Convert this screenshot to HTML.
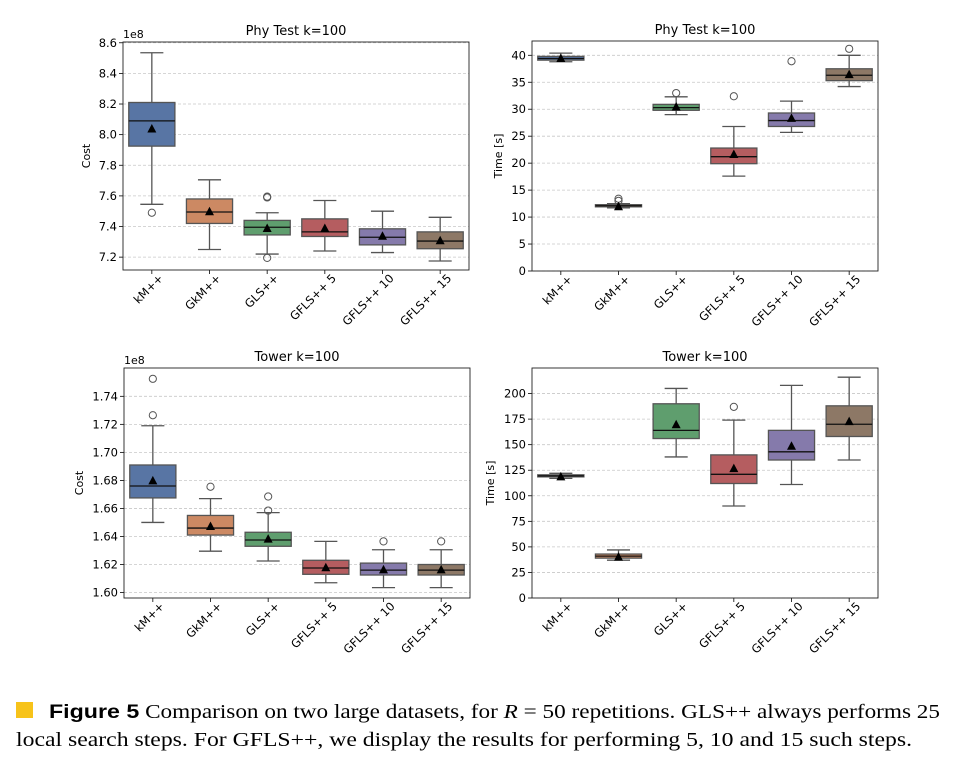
<!DOCTYPE html>
<html><head><meta charset="utf-8"><style>
body{margin:0;background:#fff;width:955px;height:773px;overflow:hidden}
svg{display:block}
</style></head><body>
<svg id="fig" width="955" height="773" xmlns="http://www.w3.org/2000/svg">
<rect x="16" y="702" width="17" height="16" fill="#f7c31a"/>
<text x="49" y="718" font-family="Liberation Serif, serif" font-size="19.5" textLength="891" lengthAdjust="spacingAndGlyphs"><tspan font-family="Liberation Sans, sans-serif" font-weight="bold">Figure 5</tspan> Comparison on two large datasets, for <tspan font-style="italic">R</tspan> = 50 repetitions. GLS++ always performs 25</text>
<text x="16" y="746" font-family="Liberation Serif, serif" font-size="19.5" textLength="896" lengthAdjust="spacingAndGlyphs">local search steps. For GFLS++, we display the results for performing 5, 10 and 15 such steps.</text>
</svg>
<script>
const categories=["kM++","GkM++","GLS++","GFLS++ 5","GFLS++ 10","GFLS++ 15"];
const colors=["#5875a4","#cc8963","#5f9e6e","#b55d60","#857aab","#8d7866"];
// [whiskerLo, q1, median, q3, whiskerHi]
const phyCost=[[7.545,7.925,8.09,8.21,8.535],[7.25,7.42,7.495,7.58,7.705],[7.22,7.345,7.395,7.44,7.49],[7.24,7.335,7.365,7.45,7.57],[7.23,7.28,7.33,7.385,7.50],[7.175,7.255,7.305,7.365,7.46]];
const phyCostMean=[8.04,7.50,7.39,7.39,7.34,7.31];
const phyCostOut=[[7.49],[],[7.59,7.595,7.195],[],[],[]];
const phyTime=[[38.8,39.1,39.4,39.8,40.4],[11.7,11.9,12.1,12.3,12.5],[29.0,29.8,30.3,30.9,32.3],[17.6,19.9,21.2,22.8,26.8],[25.7,26.8,27.9,29.3,31.5],[34.2,35.3,36.3,37.5,40.0]];
const phyTimeMean=[39.5,12.0,30.5,21.7,28.4,36.5];
const phyTimeOut=[[],[13.0,13.4],[33.0],[32.4],[38.9],[41.2]];
const towCost=[[1.650,1.6675,1.676,1.691,1.719],[1.6295,1.641,1.646,1.655,1.667],[1.6225,1.633,1.6375,1.643,1.657],[1.607,1.613,1.6175,1.623,1.6365],[1.6035,1.6125,1.616,1.621,1.6305],[1.6035,1.6125,1.616,1.620,1.6305]];
const towCostMean=[1.680,1.6475,1.6385,1.618,1.6165,1.6165];
const towCostOut=[[1.7265,1.7525],[1.6755],[1.6585,1.6685],[],[1.6365],[1.6365]];
const towTime=[[117,118.5,119.5,120.5,122],[37,39,41,43,47],[138,156,164,190,205],[90,112,121,140,174],[111,135,143,164,208],[135,158,170,188,216]];
const towTimeMean=[119,40.5,170,127,149,173];
const towTimeOut=[[],[],[],[187],[],[]];
const phyCostTicks=["7.2","7.4","7.6","7.8","8.0","8.2","8.4","8.6"];
const phyTimeTicks=["0","5","10","15","20","25","30","35","40"];
const towCostTicks=["1.60","1.62","1.64","1.66","1.68","1.70","1.72","1.74"];
const towTimeTicks=["0","25","50","75","100","125","150","175","200"];

const NS="http://www.w3.org/2000/svg";
const svg=document.getElementById('fig');
function mk(tag,attrs,parent){const e=document.createElementNS(NS,tag);for(const k in attrs)e.setAttribute(k,attrs[k]);(parent||svg).appendChild(e);return e;}

function panel(p){
  const g=mk('g',{});
  
  
  const y=v=>p.B-(v-p.ymin)/(p.ymax-p.ymin)*(p.B-p.T);
  const n=categories.length,step=(p.R-p.L)/n;
  const x=i=>p.L+step*(i+0.5);
  p.ticks.forEach(t=>{
    const v=parseFloat(t),yy=y(v);
    const gl=mk('line',{x1:p.L,x2:p.R,y1:yy,y2:yy,stroke:'#c8c8c8','stroke-width':0.8,'stroke-dasharray':'3,2'},g);
    
    
    mk('line',{x1:p.L-4,x2:p.L,y1:yy,y2:yy,stroke:'#000','stroke-width':0.8},g);
    const tx=mk('text',{x:p.L-6,y:yy+4,'text-anchor':'end','font-family':'DejaVu Sans, sans-serif','font-size':11.5},g);
    tx.textContent=t;
    
    
  });
  categories.forEach((c,i)=>{
    const s=p.stats[i],cx=x(i),w=step*0.8,cap=step*0.2;
    const bg=mk('g',{},g);
    
    
    const st={stroke:'#555','stroke-width':1.3};
    mk('line',Object.assign({x1:cx,x2:cx,y1:y(s[0]),y2:y(s[1])},st),bg);
    mk('line',Object.assign({x1:cx,x2:cx,y1:y(s[3]),y2:y(s[4])},st),bg);
    mk('line',Object.assign({x1:cx-cap,x2:cx+cap,y1:y(s[0]),y2:y(s[0])},st),bg);
    mk('line',Object.assign({x1:cx-cap,x2:cx+cap,y1:y(s[4]),y2:y(s[4])},st),bg);
    mk('rect',{x:cx-w/2,y:y(s[3]),width:w,height:Math.max(1,y(s[1])-y(s[3])),fill:colors[i],stroke:'#555','stroke-width':1.3},bg);
    mk('line',{x1:cx-w/2,x2:cx+w/2,y1:y(s[2]),y2:y(s[2]),stroke:'#111','stroke-width':1.3},bg);
    p.outs[i].forEach(o=>{
      const oc=mk('circle',{cx:cx,cy:y(o),r:3.6,fill:'none',stroke:'#555','stroke-width':1},bg);
      
      
    });
    const my=y(p.means[i]);
    const tri=mk('polygon',{points:`${cx-4.5},${my+4} ${cx+4.5},${my+4} ${cx},${my-4.5}`,fill:'#000'},bg);
    
    
    mk('line',{x1:cx,x2:cx,y1:p.B,y2:p.B+4,stroke:'#000','stroke-width':0.8},g);
    const tl=mk('text',{x:0,y:0,'text-anchor':'end','font-family':'DejaVu Sans, sans-serif','font-size':11.5,transform:`translate(${cx+12},${p.B+9}) rotate(-45)`},g);
    tl.textContent=c;
    
    
  });
  const fr=mk('rect',{x:p.L,y:p.T,width:p.R-p.L,height:p.B-p.T,fill:'none',stroke:'#222','stroke-width':0.9},g);
  
  
  const ti=mk('text',{x:(p.L+p.R)/2,y:p.T-7,'text-anchor':'middle','font-family':'DejaVu Sans, sans-serif','font-size':13},g);
  ti.textContent=p.title;
  
  
  const yl=mk('text',{x:0,y:0,'text-anchor':'middle','font-family':'DejaVu Sans, sans-serif','font-size':11,transform:`translate(${p.ylx},${(p.T+p.B)/2}) rotate(-90)`},g);
  yl.textContent=p.ylabel;
  
  
  if(p.off){
    const of=mk('text',{x:p.L,y:p.T-4,'font-family':'DejaVu Sans, sans-serif','font-size':11},g);
    of.textContent=p.off;
    
    
  }
}
panel({name:'phy-cost-chart',title:'Phy Test k=100',ylabel:'Cost',off:'1e8',L:123,R:469,T:42,B:270,ymin:7.116,ymax:8.605,ticks:phyCostTicks,stats:phyCost,means:phyCostMean,outs:phyCostOut,ylx:90});
panel({name:'phy-time-chart',title:'Phy Test k=100',ylabel:'Time [s]',L:532,R:878,T:41,B:271,ymin:0,ymax:42.65,ticks:phyTimeTicks,stats:phyTime,means:phyTimeMean,outs:phyTimeOut,ylx:502});
panel({name:'tower-cost-chart',title:'Tower k=100',ylabel:'Cost',off:'1e8',L:124,R:470,T:368,B:598,ymin:1.5961,ymax:1.7602,ticks:towCostTicks,stats:towCost,means:towCostMean,outs:towCostOut,ylx:83});
panel({name:'tower-time-chart',title:'Tower k=100',ylabel:'Time [s]',L:532,R:878,T:368,B:598,ymin:0,ymax:225,ticks:towTimeTicks,stats:towTime,means:towTimeMean,outs:towTimeOut,ylx:494});
</script>
</body></html>
